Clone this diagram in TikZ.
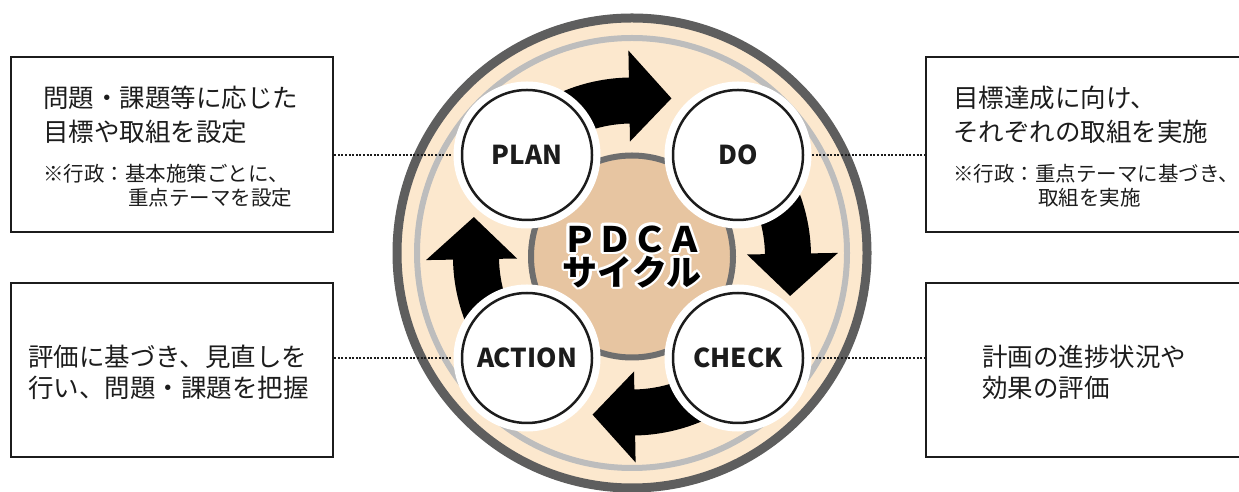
\documentclass[tikz,border=0pt]{standalone}
\usepackage{fontspec}
\setmainfont{Noto Sans CJK JP}
\usetikzlibrary{positioning,calc}
\definecolor{cBeige}{HTML}{FCE8CE}
\definecolor{cCore}{HTML}{E7C5A1}
\definecolor{cRimDark}{HTML}{5E5E5E}
\definecolor{cRimLight}{HTML}{BDBDBD}
\definecolor{cCoreRing}{HTML}{6E6E6E}
\definecolor{cInk}{HTML}{1C1C1C}
\tikzset{
  every picture/.style={line width=0.7pt},
  sinfo/.style={draw=cInk, line width=2.5pt, inner sep=0pt},
  smain/.style={anchor=base west, inner sep=0pt, text=cInk,
                font=\fontsize{25.5}{30}\selectfont},
  snote/.style={anchor=base west, inner sep=0pt, text=cInk,
                font=\fontsize{20.5}{24}\selectfont},
  sphase/.style={circle, fill=white, draw=cInk, line width=2.5pt,
                 minimum size=130pt, inner sep=0pt, text=cInk,
                 font=\bfseries\fontsize{26}{30}\selectfont,
                 preaction={draw=white, line width=17pt}},
  sdots/.style={draw=cInk, line width=2.2pt, dash pattern=on 2pt off 1.6pt},
  sarrow/.style={fill=black},
  stitle/.style={inner sep=0pt, font=\bfseries\fontsize{35}{40}\selectfont},
}

\begin{document}
\begin{tikzpicture}[x=1pt,y=1pt]
  \useasboundingbox (0,0) rectangle (1239,492);
  \coordinate (hub) at (632,239);
  \coordinate (core) at (632,235.5);
  % disc and rims
  \fill[cBeige] (hub) circle[radius=239];
  \draw[cRimDark, line width=9pt] (hub) circle[radius=235];
  \draw[cRimLight, line width=6pt] (hub) circle[radius=215];
  \draw[cCoreRing, line width=6pt, fill=cCore] (core) circle[radius=101];
  % cycle arrows, one per quarter
  \foreach \rot in {0,-90,-180,-270} {
    \fill[sarrow, shift={(core)}, rotate=\rot]
      (125:179) arc[start angle=125, end angle=91, radius=179]
      -- (91:206) -- (76:163) -- (91:115) -- (91:133)
      arc[start angle=91, end angle=125, radius=133] -- cycle;
  }
  % phases
  \node[sphase] (plan)   at (527,337) {PLAN};
  \node[sphase] (do)     at (738,337) {DO};
  \node[sphase] (check)  at (738,134) {CHECK};
  \node[sphase] (action) at (527,134) {ACTION};
  % centre title with white edge
  \foreach \ang in {0,30,...,330} {
    \node[stitle, text=white] (pdcahalo\ang) at ($(632,253)+(\ang:2.6pt)$) {ＰＤＣＡ};
    \node[stitle, text=white] (cyclehalo\ang) at ($(632,220)+(\ang:2.6pt)$) {サイクル};
  }
  \node[stitle, text=black] (pdca)  at (632,253) {ＰＤＣＡ};
  \node[stitle, text=black] (cycle) at (632,220) {サイクル};
  % boxes
  \node[sinfo, minimum width=322pt, minimum height=175pt] (planbox)   at (172,347.5) {};
  \node[sinfo, minimum width=324pt, minimum height=175pt] (dobox)     at (1088,347.5) {};
  \node[sinfo, minimum width=324pt, minimum height=174pt] (checkbox)  at (1088,122) {};
  \node[sinfo, minimum width=322pt, minimum height=174pt] (actionbox) at (172,122) {};
  % dotted leaders
  \draw[sdots] (planbox.east |- plan) -- ([xshift=-8pt]plan.west);
  \draw[sdots] ([xshift=8pt]do.east) -- (dobox.west |- do);
  \draw[sdots] ([xshift=8pt]check.east) -- (checkbox.west |- check);
  \draw[sdots] (actionbox.east |- action) -- ([xshift=-8pt]action.west);
  % box texts
  \node[smain] (plan1) at (43,384.3) {問題・課題等に応じた};
  \node[smain] (plan2) at (43,350.8) {目標や取組を設定};
  \node[snote] (plan3) at (43,310.2) {※行政：基本施策ごとに、};
  \node[snote] (plan4) at (128,286.7) {重点テーマを設定};
  \node[smain] (do1) at (953,384.3) {目標達成に向け、};
  \node[smain] (do2) at (953,350.8) {それぞれの取組を実施};
  \node[snote] (do3) at (953,310.2) {※行政：重点テーマに基づき、};
  \node[snote] (do4) at (1038,286.7) {取組を実施};
  \node[smain] (check1) at (982,125.3) {計画の進捗状況や};
  \node[smain] (check2) at (982,94.8) {効果の評価};
  \node[smain] (action1) at (28,125.3) {評価に基づき、見直しを};
  \node[smain] (action2) at (28,94.8) {行い、問題・課題を把握};
\end{tikzpicture}
\end{document}
